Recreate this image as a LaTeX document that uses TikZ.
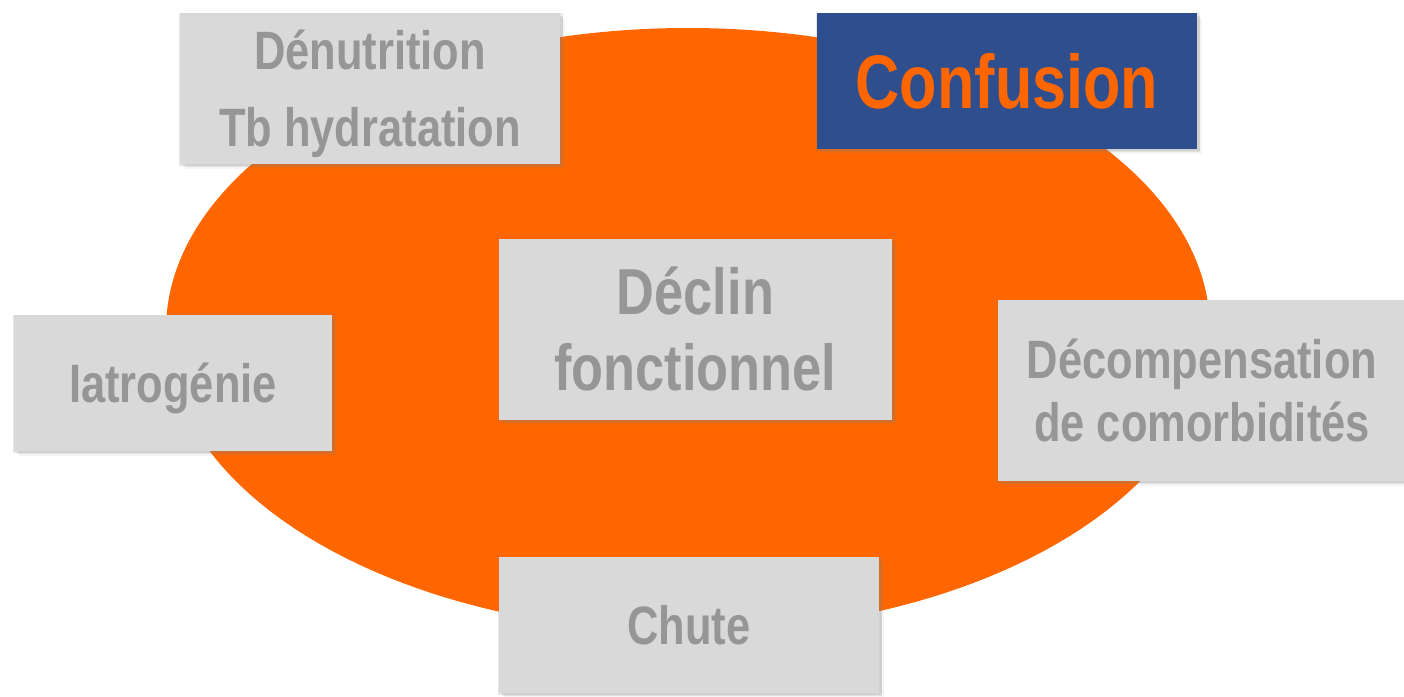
\documentclass[tikz,border=0pt]{standalone}
\usepackage{fontspec}
\newfontfamily\etroite{Liberation Sans Bold}[FakeStretch=0.805]
\usepackage{tikz}
\usetikzlibrary{shadows}
\definecolor{morange}{RGB}{255, 102, 0}
\definecolor{mbleu}{RGB}{47, 78, 141}
\definecolor{mgrisfond}{RGB}{217, 217, 217}
\definecolor{mgristexte}{RGB}{150, 150, 150}
\newcommand{\deuxlignes}[2]{\vtop{\halign{\hfil##\hfil\cr #1\cr #2\cr}}}
\tikzset{
  cadre/.style={fill=mgrisfond, text=mgristexte, inner sep=0pt,
    drop shadow={shadow xshift=1pt, shadow yshift=-1pt, shadow scale=1.01, opacity=0.18},
    drop shadow={shadow xshift=3pt, shadow yshift=-3pt, opacity=0.16},
    drop shadow={shadow xshift=5pt, shadow yshift=-5pt, opacity=0.08}},
  moyen/.style={font=\etroite\fontsize{54}{64}\selectfont, text height=38.7pt, text depth=0pt},
}

\begin{document}
\begin{tikzpicture}[x=1pt, y=-1pt]
      \useasboundingbox (0,0) rectangle (1404,696);

      \fill [morange] (688,330) ellipse [x radius=522, y radius=302];

      \node (denutrition) [cadre, minimum width=380, minimum height=151,
        font=\etroite\fontsize{54}{77}\selectfont, text height=38.7pt, text depth=77pt]
        at (370,88.5) {\deuxlignes{Dénutrition}{Tb hydratation}};
      \node (confusion) [cadre, fill=mbleu, text=morange, minimum width=380, minimum height=136,
        font=\etroite\fontsize{76}{80}\selectfont, text height=54.4pt, text depth=0pt]
        at (1007,81) {Confusion};

      \node (declin) [cadre, minimum width=393, minimum height=181,
        font=\etroite\fontsize{65}{76}\selectfont, text height=46.5pt, text depth=76pt]
        at (695.5,329.5) {\deuxlignes{Déclin}{fonctionnel}};

      \node (iatrogenie) [cadre, moyen, minimum width=318, minimum height=136] at (173,383) {Iatrogénie};
      \node (decompensation) [cadre, minimum width=408, minimum height=181,
        font=\etroite\fontsize{54}{63}\selectfont, text height=38.7pt, text depth=63pt]
        at (1202,390.5) {\deuxlignes{Décompensation}{de comorbidités}};

      \node (chute) [cadre, moyen, minimum width=380, minimum height=136] at (689,625) {Chute};
    \end{tikzpicture}
\end{document}
